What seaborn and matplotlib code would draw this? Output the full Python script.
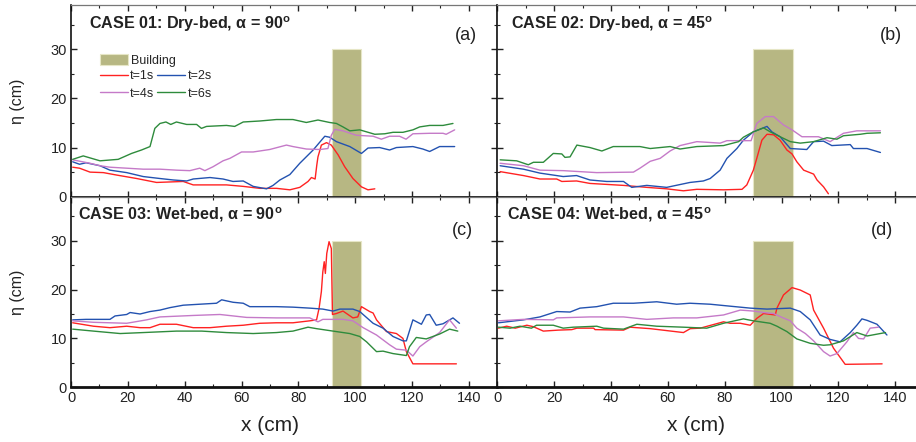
import matplotlib
matplotlib.use("Agg")
import matplotlib.pyplot as plt
import seaborn as sns
import pandas as pd
from matplotlib.patches import Patch
from matplotlib.lines import Line2D
from matplotlib.ticker import MultipleLocator

# ---------------- data: free-surface elevation eta (cm) along x (cm) ----------------
times = ["t=1s", "t=2s", "t=4s", "t=6s"]

# CASE 01: dry bed, alpha = 90 deg
case01_t1_x = [0.6, 3.0, 6.7, 11.4, 16.1, 23.1, 30.1, 34.8, 39.5, 43.0, 48.9, 54.7, 60.6, 66.4, 72.3, 77.0,
               80.5, 83.4, 84.6, 85.9, 86.5, 86.9, 88.1, 89.9, 91.6, 94.0, 96.3, 99.2, 102.2, 104.5, 106.9]
case01_t1_y = [6.0, 5.8, 5.0, 4.9, 4.4, 3.7, 2.9, 3.0, 3.1, 2.4, 2.4, 2.4, 2.1, 1.7, 1.7, 1.4,
               1.9, 3.1, 3.9, 3.6, 6.5, 8.1, 10.5, 11.0, 10.5, 8.5, 6.1, 3.7, 2.0, 1.4, 1.6]
case01_t2_x = [0.6, 3.0, 5.3, 10.2, 13.7, 19.6, 25.4, 31.3, 36.0, 40.7, 43.0, 48.9, 53.5, 57.0, 60.6, 64.1,
               68.8, 71.1, 73.5, 77.0, 80.5, 85.2, 89.3, 91.0, 93.4, 98.1, 102.2, 104.5, 108.6, 112.1, 114.5,
               120.3, 123.8, 126.2, 129.7, 135.0]
case01_t2_y = [7.1, 6.6, 6.9, 6.3, 5.4, 4.9, 4.1, 3.7, 3.4, 3.2, 3.6, 3.9, 3.6, 3.1, 3.2, 2.1,
               1.6, 2.3, 3.4, 4.5, 6.8, 9.5, 12.3, 12.1, 11.2, 10.2, 8.8, 9.9, 10.0, 9.5, 10.0,
               10.2, 9.7, 9.2, 10.2, 10.2]
case01_t4_x = [0.6, 6.7, 10.2, 13.7, 19.6, 25.4, 31.3, 37.2, 41.8, 45.3, 47.1, 50.0, 53.5, 55.9, 60.0, 64.1,
               69.9, 75.8, 78.1, 82.8, 87.5, 90.4, 91.6, 92.8, 95.7, 100.4, 106.3, 109.2, 112.1, 115.6, 117.9,
               120.3, 126.2, 130.9, 132.0, 135.0]
case01_t4_y = [7.5, 6.8, 6.3, 6.0, 5.8, 5.6, 5.6, 5.4, 5.3, 5.8, 5.3, 6.1, 7.3, 7.8, 9.1, 9.1,
               9.6, 10.5, 10.2, 9.7, 9.6, 9.8, 12.5, 13.7, 13.4, 12.5, 12.3, 11.7, 12.3, 12.3, 11.7,
               12.8, 12.9, 12.9, 12.7, 13.6]
case01_t6_x = [0.6, 4.3, 10.2, 16.6, 21.3, 24.8, 27.8, 29.5, 31.3, 33.4, 35.1, 37.1, 40.7, 44.2, 45.9, 47.7,
               54.7, 57.6, 60.6, 66.4, 72.3, 78.1, 82.8, 86.9, 91.0, 93.4, 95.7, 98.1, 101.6, 106.9, 110.4,
               113.3, 116.8, 120.3, 122.7, 126.2, 130.9, 134.4]
case01_t6_y = [7.6, 8.3, 7.3, 7.6, 8.8, 9.5, 10.2, 13.9, 14.9, 15.2, 14.7, 15.2, 14.7, 14.7, 13.9, 14.3,
               14.5, 14.3, 15.2, 15.4, 15.7, 15.7, 15.1, 15.6, 15.1, 14.9, 14.2, 13.4, 13.6, 12.7, 12.8,
               13.1, 13.1, 13.6, 14.2, 14.5, 14.5, 14.9]

# CASE 02: dry bed, alpha = 45 deg
case02_t1_x = [1.0, 9.2, 15.0, 20.9, 22.7, 27.9, 32.6, 44.4, 52.6, 59.6, 65.5, 70.2, 79.6, 86.1, 87.8,
               90.1, 91.3, 93.1, 94.9, 97.2, 99.5, 101.9, 103.7, 105.4, 107.8, 111.3, 112.5, 114.8, 116.5]
case02_t1_y = [5.1, 4.3, 3.6, 3.6, 3.1, 3.2, 2.7, 2.3, 1.9, 1.6, 1.2, 1.5, 1.4, 1.5, 2.4,
               5.4, 7.8, 11.5, 12.7, 12.6, 11.5, 9.5, 8.7, 7.1, 5.4, 4.6, 3.4, 2.0, 0.6]
case02_t2_x = [1.0, 9.2, 15.0, 23.2, 27.9, 32.6, 38.5, 44.4, 47.3, 52.6, 59.6, 67.8, 72.5, 74.9, 78.4,
               80.8, 84.3, 86.6, 90.1, 94.9, 96.6, 99.5, 103.1, 108.9, 111.3, 114.8, 117.7, 124.2, 125.3,
               130.1, 134.8]
case02_t2_y = [6.3, 5.6, 4.8, 4.1, 4.3, 3.4, 3.1, 3.1, 1.9, 2.3, 1.9, 2.9, 3.2, 3.7, 5.4,
               7.8, 9.8, 11.5, 13.2, 14.3, 13.2, 12.2, 9.8, 9.6, 11.2, 11.3, 10.4, 10.6, 9.8,
               9.8, 9.0]
case02_t4_x = [1.0, 9.2, 15.0, 23.2, 35.0, 47.9, 50.2, 53.8, 57.3, 60.8, 64.3, 70.2, 78.4, 80.8, 89.3,
               91.3, 94.3, 97.2, 100.7, 103.7, 107.2, 113.0, 117.1, 121.8, 126.5, 134.8]
case02_t4_y = [6.8, 6.3, 5.4, 5.3, 4.9, 5.0, 5.8, 7.2, 7.8, 9.3, 10.4, 11.2, 10.9, 11.4, 11.4,
               14.9, 16.3, 16.3, 14.6, 13.6, 12.2, 12.2, 11.2, 12.9, 13.4, 13.4]
case02_t6_x = [1.0, 6.8, 10.9, 12.7, 16.2, 19.7, 22.7, 23.8, 25.6, 28.0, 32.6, 36.8, 40.8, 50.2, 53.8,
               60.8, 64.3, 70.2, 79.6, 84.9, 86.6, 90.1, 93.7, 96.0, 99.5, 103.1, 106.6, 111.3, 116.0,
               119.5, 121.8, 127.7, 130.1, 134.8]
case02_t6_y = [7.5, 7.3, 6.5, 7.0, 7.0, 8.8, 8.7, 8.0, 8.1, 10.5, 10.0, 9.3, 10.2, 10.2, 9.8,
               10.2, 9.7, 10.2, 10.4, 11.2, 12.1, 13.2, 14.0, 13.2, 12.2, 11.2, 10.9, 11.2, 12.0,
               11.7, 12.4, 12.7, 12.9, 13.0]

# CASE 03: wet bed, alpha = 90 deg
case03_t1_x = [0.6, 7.9, 13.7, 19.6, 24.3, 27.8, 31.3, 37.1, 43.0, 48.9, 54.7, 60.6, 66.4, 72.3, 78.1,
               84.0, 86.4, 87.3, 88.1, 88.6, 89.1, 89.5, 90.0, 90.8, 91.6, 92.0, 93.4, 95.7, 99.2, 100.9,
               102.2, 105.1, 106.3, 107.5, 111.0, 114.5, 116.8, 118.0, 120.3, 135.6]
case03_t1_y = [13.2, 12.5, 12.2, 12.5, 12.2, 12.2, 12.9, 12.9, 12.2, 12.2, 12.5, 12.7, 13.1, 13.2, 13.2,
               13.6, 13.8, 16.2, 19.6, 23.6, 25.7, 23.3, 27.4, 29.8, 28.4, 14.9, 15.1, 15.6, 14.2, 14.4,
               16.5, 15.5, 15.2, 13.8, 11.4, 11.0, 10.0, 7.3, 4.8, 4.8]
case03_t2_x = [0.6, 5.3, 13.7, 15.5, 19.6, 20.8, 24.3, 27.8, 31.3, 34.8, 39.5, 45.3, 51.2, 53.0, 57.0,
               60.6, 62.9, 72.3, 78.1, 84.0, 88.6, 92.2, 94.6, 99.2, 101.6, 106.3, 109.8, 113.3, 116.8,
               118.0, 120.3, 123.3, 125.0, 126.2, 128.5, 130.9, 134.4, 136.7]
case03_t2_y = [13.8, 13.9, 13.9, 14.6, 14.9, 15.3, 15.0, 15.5, 15.8, 16.3, 16.8, 17.0, 17.2, 17.9, 17.4,
               17.2, 16.5, 16.5, 16.4, 16.2, 16.0, 15.6, 16.0, 16.0, 15.5, 13.1, 12.1, 10.4, 9.5,
               9.5, 13.8, 12.9, 14.8, 14.9, 12.7, 13.0, 14.2, 13.1]
case03_t4_x = [0.6, 7.9, 19.6, 26.6, 31.3, 43.0, 52.4, 61.8, 72.3, 84.0, 86.9, 88.6, 95.7, 99.2, 102.8,
               107.5, 112.1, 114.5, 118.0, 120.3, 122.7, 125.0, 129.7, 133.2, 135.6]
case03_t4_y = [13.6, 13.3, 13.1, 13.8, 14.4, 14.7, 14.9, 14.3, 14.2, 14.2, 13.4, 13.9, 13.9, 13.6, 12.2,
               10.7, 8.7, 7.8, 7.6, 6.4, 8.3, 9.3, 11.2, 13.8, 12.1]
case03_t6_x = [0.6, 7.9, 17.3, 25.4, 37.1, 46.0, 54.7, 64.1, 72.3, 78.1, 83.4, 86.4, 92.2, 98.1, 101.6,
               104.0, 107.5, 109.8, 113.3, 118.0, 119.1, 121.5, 125.0, 129.7, 133.2, 136.1]
case03_t6_y = [11.9, 11.5, 11.0, 11.2, 11.5, 11.5, 11.2, 11.0, 11.2, 11.5, 12.3, 12.0, 11.5, 11.0, 10.4,
               9.3, 7.3, 7.4, 6.9, 6.5, 8.3, 10.2, 9.9, 10.9, 11.9, 11.5]

# CASE 04: wet bed, alpha = 45 deg
case04_t1_x = [0.4, 3.3, 6.3, 10.4, 12.7, 16.2, 21.5, 26.2, 28.0, 33.9, 34.4, 44.4, 46.7, 53.8, 65.5,
               67.9, 71.4, 79.6, 81.9, 85.5, 89.0, 91.3, 93.7, 97.8, 98.4, 100.7, 103.7, 106.6, 110.1,
               111.3, 114.8, 118.3, 122.4, 135.4]
case04_t1_y = [12.1, 12.5, 12.1, 12.7, 12.4, 11.5, 11.7, 11.8, 12.1, 12.1, 11.8, 11.7, 12.3, 12.0, 11.2,
               12.0, 12.1, 13.4, 13.1, 13.1, 12.7, 14.1, 15.1, 14.8, 16.2, 18.9, 20.4, 19.9, 18.9,
               15.8, 12.1, 8.0, 4.7, 4.8]
case04_t2_x = [0.4, 9.2, 15.0, 20.9, 25.6, 29.1, 35.0, 40.8, 47.9, 56.1, 63.1, 67.8, 74.9, 81.9, 89.0,
               94.9, 103.1, 106.6, 110.1, 113.6, 117.1, 120.6, 124.2, 126.5, 128.3, 130.1, 133.6, 137.1]
case04_t2_y = [13.2, 13.8, 14.4, 15.5, 15.4, 16.2, 16.5, 17.2, 17.2, 17.5, 17.0, 17.2, 17.0, 16.6, 16.2,
               16.0, 16.2, 15.5, 13.8, 10.7, 9.8, 9.3, 11.2, 12.7, 14.0, 13.7, 12.9, 10.7]
case04_t4_x = [0.4, 9.2, 19.7, 20.9, 32.6, 44.4, 52.6, 61.9, 70.2, 79.6, 85.5, 90.1, 93.7, 97.2, 100.2,
               103.1, 105.4, 108.4, 111.3, 114.8, 117.1, 119.5, 123.0, 125.3, 127.1, 128.9, 131.2, 134.1]
case04_t4_y = [13.6, 13.9, 13.8, 14.2, 14.4, 14.4, 13.9, 14.2, 14.2, 14.8, 15.8, 15.6, 15.3, 15.1, 14.3,
               13.6, 12.1, 11.0, 9.5, 7.3, 6.4, 6.9, 9.3, 11.2, 10.0, 9.9, 12.1, 12.3]
case04_t6_x = [0.4, 4.5, 8.0, 12.0, 13.8, 19.7, 23.2, 26.7, 35.0, 37.4, 44.4, 49.1, 56.1, 65.5, 73.7,
               79.6, 86.6, 90.1, 96.0, 98.4, 101.9, 105.4, 110.1, 114.8, 117.1, 121.8, 126.5, 130.1, 136.6]
case04_t6_y = [12.3, 12.1, 12.5, 12.1, 12.7, 12.7, 12.1, 12.3, 12.5, 12.1, 11.9, 12.9, 12.5, 12.3, 12.1,
               13.1, 14.0, 13.6, 13.1, 12.5, 11.4, 9.9, 9.0, 8.6, 8.7, 9.5, 11.2, 10.5, 11.2]

# building footprint along x (cm) and height (cm) for each case
building_x0 = [92, 90, 92, 90]
building_x1 = [102, 104, 102, 104]
building_h = 30

case_titles = [r"CASE 01: Dry-bed, $\mathbf{\alpha}$ = 90$^{\mathbf{o}}$",
               r"CASE 02: Dry-bed, $\mathbf{\alpha}$ = 45$^{\mathbf{o}}$",
               r"CASE 03: Wet-bed, $\mathbf{\alpha}$ = 90$^{\mathbf{o}}$",
               r"CASE 04: Wet-bed, $\mathbf{\alpha}$ = 45$^{\mathbf{o}}$"]
panel_tags = ["(a)", "(b)", "(c)", "(d)"]

cases = [
    [(case01_t1_x, case01_t1_y), (case01_t2_x, case01_t2_y), (case01_t4_x, case01_t4_y), (case01_t6_x, case01_t6_y)],
    [(case02_t1_x, case02_t1_y), (case02_t2_x, case02_t2_y), (case02_t4_x, case02_t4_y), (case02_t6_x, case02_t6_y)],
    [(case03_t1_x, case03_t1_y), (case03_t2_x, case03_t2_y), (case03_t4_x, case03_t4_y), (case03_t6_x, case03_t6_y)],
    [(case04_t1_x, case04_t1_y), (case04_t2_x, case04_t2_y), (case04_t4_x, case04_t4_y), (case04_t6_x, case04_t6_y)],
]

# ---------------- style ----------------
sns.set_theme(style="ticks")
plt.rcParams['font.family'] = ['Liberation Sans', 'DejaVu Sans']
plt.rcParams['mathtext.fontset'] = 'custom'
plt.rcParams['mathtext.rm'] = 'Liberation Sans'
plt.rcParams['mathtext.it'] = 'Liberation Sans:italic'
plt.rcParams['mathtext.bf'] = 'Liberation Sans:bold'

palette = {"t=1s": "#ff2222", "t=2s": "#2352b0", "t=4s": "#c57ac8", "t=6s": "#2e8b3c"}
building_color = "#b7b783"
text_color = "#222222"

fig = plt.figure(figsize=(9.16, 4.42), dpi=100)
W = 426.3 / 916
x_left, x_right = 71 / 916, 497.3 / 916
y_top, h_top = 1 - 196.7 / 442, 191.7 / 442
y_bot, h_bot = 1 - 387.3 / 442, 190.6 / 442
rects = [[x_left, y_top, W, h_top], [x_right, y_top, W, h_top],
         [x_left, y_bot, W, h_bot], [x_right, y_bot, W, h_bot]]
title_x = [0.043, 0.031, 0.017, 0.022]
tag_x = [0.952, 0.949, 0.944, 0.929]

axes = []
for i, rect in enumerate(rects):
    ax = fig.add_axes(rect)
    axes.append(ax)

    # building block
    ax.bar((building_x0[i] + building_x1[i]) / 2, building_h, width=building_x1[i] - building_x0[i],
           color=building_color, edgecolor="#e6e6c6", linewidth=0.8, zorder=1)

    frames = []
    for t, (xs, ys) in zip(times, cases[i]):
        frames.append(pd.DataFrame({"x": xs, "eta": ys, "time": t}))
    df = pd.concat(frames, ignore_index=True)
    sns.lineplot(data=df, x="x", y="eta", hue="time", palette=palette, sort=False,
                 estimator=None, linewidth=1.0, legend=False, ax=ax, zorder=3)

    ax.set_xlim(0, 150)
    ax.set_ylim(0, 39)
    ax.xaxis.set_major_locator(MultipleLocator(20))
    ax.xaxis.set_minor_locator(MultipleLocator(10))
    ax.yaxis.set_major_locator(MultipleLocator(10))
    ax.yaxis.set_minor_locator(MultipleLocator(5))
    ax.set_xticks([0, 20, 40, 60, 80, 100, 120, 140])
    ax.tick_params(which="both", direction="in", top=True, right=True, colors=text_color,
                   labelsize=10.5, pad=3)
    ax.tick_params(which="major", length=4.5, width=1.0)
    ax.tick_params(which="minor", length=2.5, width=0.8)
    ax.tick_params(labelbottom=(i >= 2), labelleft=(i % 2 == 0))
    ax.set_xlabel("")
    ax.set_ylabel("")

    ax.spines["bottom"].set_linewidth(2.0)
    ax.spines["bottom"].set_color("#111111")
    ax.spines["left"].set_linewidth(1.2)
    ax.spines["left"].set_color("#111111")
    ax.spines["top"].set_linewidth(0.9)
    ax.spines["top"].set_color("#777777")
    ax.spines["right"].set_linewidth(1.0)
    ax.spines["right"].set_color("#333333")

    ax.text(title_x[i], 0.875 if i < 2 else 0.881, case_titles[i], transform=ax.transAxes,
            fontsize=11.6, fontweight="bold", color=text_color, ha="left", va="baseline")
    ax.text(tag_x[i], 0.82 if i < 2 else 0.80, panel_tags[i], transform=ax.transAxes,
            fontsize=13, color=text_color, ha="right", va="baseline")

    if i % 2 == 0:
        ax.set_ylabel("η (cm)", fontsize=11.5, color=text_color, labelpad=18)
    if i >= 2:
        ax.set_xlabel("x (cm)", fontsize=15, color=text_color)
        ax.xaxis.set_label_coords(70 / 150, -0.15)

# legend in panel (a): building patch on its own row, time levels in two columns
ax = axes[0]
leg1 = ax.legend(handles=[Patch(facecolor=building_color, edgecolor="#e6e6c6", linewidth=0.8)],
                 labels=["Building"], loc="upper left", bbox_to_anchor=(0.068, 0.745),
                 frameon=False, fontsize=9, handlelength=2.25, handleheight=1.0,
                 handletextpad=0.2, borderpad=0, borderaxespad=0)
ax.add_artist(leg1)
legend_order = ["t=1s", "t=4s", "t=2s", "t=6s"]
line_handles = [Line2D([], [], color=palette[t], linewidth=1.0) for t in legend_order]
ax.legend(handles=line_handles, labels=legend_order, ncol=2, loc="upper left",
          bbox_to_anchor=(0.068, 0.66), frameon=False, fontsize=9, handlelength=2.25,
          handletextpad=0.15, columnspacing=0.25, labelspacing=0.45, borderpad=0,
          borderaxespad=0)

fig.savefig("out.png", dpi=100)
